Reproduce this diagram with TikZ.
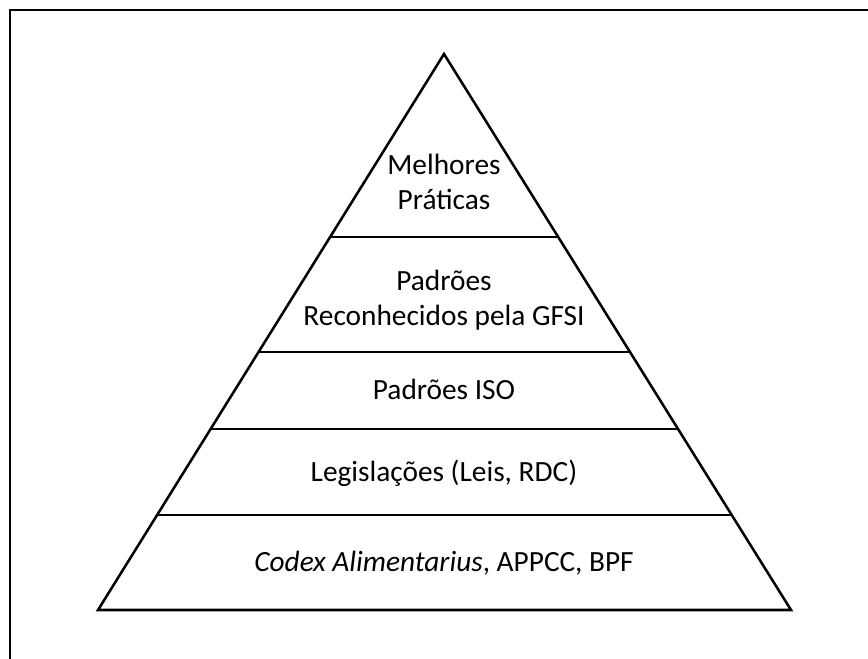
\documentclass[tikz,border=0pt]{standalone}
\usepackage{fontspec}
\setmainfont{Carlito}
\usepackage{tikz}
\usetikzlibrary{calc}

\begin{document}
\begin{tikzpicture}[x=0.75pt, y=-0.75pt,
    edge/.style={line width=1.9pt, line join=miter},
    lvl/.style={font=\fontsize{22}{26}\selectfont, align=center, inner sep=0pt}]
  \useasboundingbox (0,0) rectangle (868,659);
  % open frame (cut at right and bottom)
  \draw[line width=1.6pt] (10,665) -- (10,10) -- (875,10);
  % pyramid
  \coordinate (top) at (444,54);
  \coordinate (bl) at (98,610);
  \coordinate (br) at (791,610);
  \draw[edge] (top) -- (bl) -- (br) -- cycle;
  \foreach \yy in {237,352,429,515}
    \draw[edge] ($(top)!{(\yy-54)/556}!(bl)$) -- ($(top)!{(\yy-54)/556}!(br)$);
  % levels
  \node[lvl] (best) at (444,182) {Melhores\\Práticas};
  \node[lvl] (gfsi) at (444,300) {Padrões\\Reconhecidos pela GFSI};
  \node[lvl, anchor=base] (iso) at (444,399) {Padrões ISO};
  \node[lvl, anchor=base] (law) at (444,481) {Legislações (Leis, RDC)};
  \node[lvl, anchor=base] (codex) at (444,571) {\textit{Codex Alimentarius}, APPCC, BPF};
\end{tikzpicture}
\end{document}
